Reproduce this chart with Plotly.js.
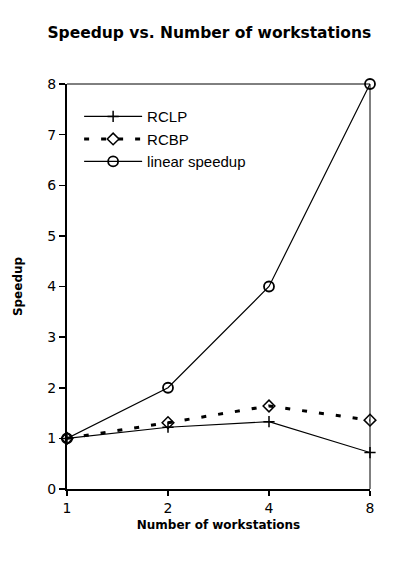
<!DOCTYPE html>
<html><head><meta charset="utf-8">
<script src="https://cdn.plot.ly/plotly-3.0.1.min.js"></script>
<style>html,body{margin:0;padding:0;background:#fff}#c{width:395px;height:563px}</style>
</head><body><div id="c"></div>
<script>
var workstations = ['1', '2', '4', '8'];
var rclp = [1.0, 1.22, 1.33, 0.72];
var rcbp = [1.0, 1.31, 1.64, 1.36];
var linear = [1, 2, 4, 8];
var yTicks = [0, 1, 2, 3, 4, 5, 6, 7, 8];

var traces = [
  {x: workstations, y: rclp, name: 'RCLP', mode: 'lines+markers', cliponaxis: false,
   line: {color: '#000', width: 1.2}, marker: {symbol: 'cross-thin', size: 8, color: '#000', line: {color: '#000', width: 1.5}}},
  {x: workstations, y: rcbp, name: 'RCBP', mode: 'lines+markers', cliponaxis: false,
   line: {color: '#000', width: 3, dash: '5px,12px'}, marker: {symbol: 'diamond-open', size: 9, color: '#000', line: {color: '#000', width: 1.5}}},
  {x: workstations, y: linear, name: 'linear speedup', mode: 'lines+markers', cliponaxis: false,
   line: {color: '#000', width: 1.2}, marker: {symbol: 'circle-open', size: 10, color: '#000', line: {color: '#000', width: 1.8}}}
];

var layout = {
  width: 395, height: 563,
  margin: {l: 67, r: 25, t: 84, b: 74},
  paper_bgcolor: '#fff', plot_bgcolor: '#fff',
  font: {family: 'Liberation Sans, Arial, sans-serif', color: '#000', size: 13},
  title: {text: '<b>Speedup vs. Number of workstations</b>', font: {family: 'DejaVu Sans, sans-serif', size: 15.5, color: '#000'}, x: 0.53, xanchor: 'center', y: 0.942, yanchor: 'middle'},
  xaxis: {type: 'category', range: [0, 3], showgrid: false, zeroline: false,
    showline: true, linecolor: '#000', linewidth: 2, mirror: false,
    ticks: 'outside', ticklen: 5, tickwidth: 1.5, tickcolor: '#000',
    tickfont: {size: 14, family: 'DejaVu Sans, sans-serif'},
    title: {text: '<b>Number of workstations</b>', font: {size: 12, family: 'DejaVu Sans, sans-serif'}, standoff: 6}},
  yaxis: {range: [0, 8], tickvals: yTicks, showgrid: false, zeroline: false,
    showline: true, linecolor: '#000', linewidth: 2,
    ticks: 'outside', ticklen: 6, tickwidth: 1.5, tickcolor: '#000',
    tickfont: {size: 14, family: 'DejaVu Sans, sans-serif'},
    title: {text: '<b>Speedup</b>', font: {size: 12, family: 'DejaVu Sans, sans-serif'}, standoff: 22}},
  shapes: [
    {type: 'line', xref: 'paper', yref: 'paper', x0: 0, x1: 1, y0: 1, y1: 1, line: {color: '#000', width: 1}},
    {type: 'line', xref: 'paper', yref: 'paper', x0: 1, x1: 1, y0: 0, y1: 1, line: {color: '#000', width: 1}}
  ],
  legend: {x: 0.04, y: 0.96, xanchor: 'left', yanchor: 'top', bgcolor: 'rgba(0,0,0,0)', itemwidth: 58,
    font: {size: 15, family: 'Liberation Sans, Arial, sans-serif'}},
  showlegend: true
};
Plotly.newPlot('c', traces, layout, {displayModeBar: false, staticPlot: true});
</script></body></html>
